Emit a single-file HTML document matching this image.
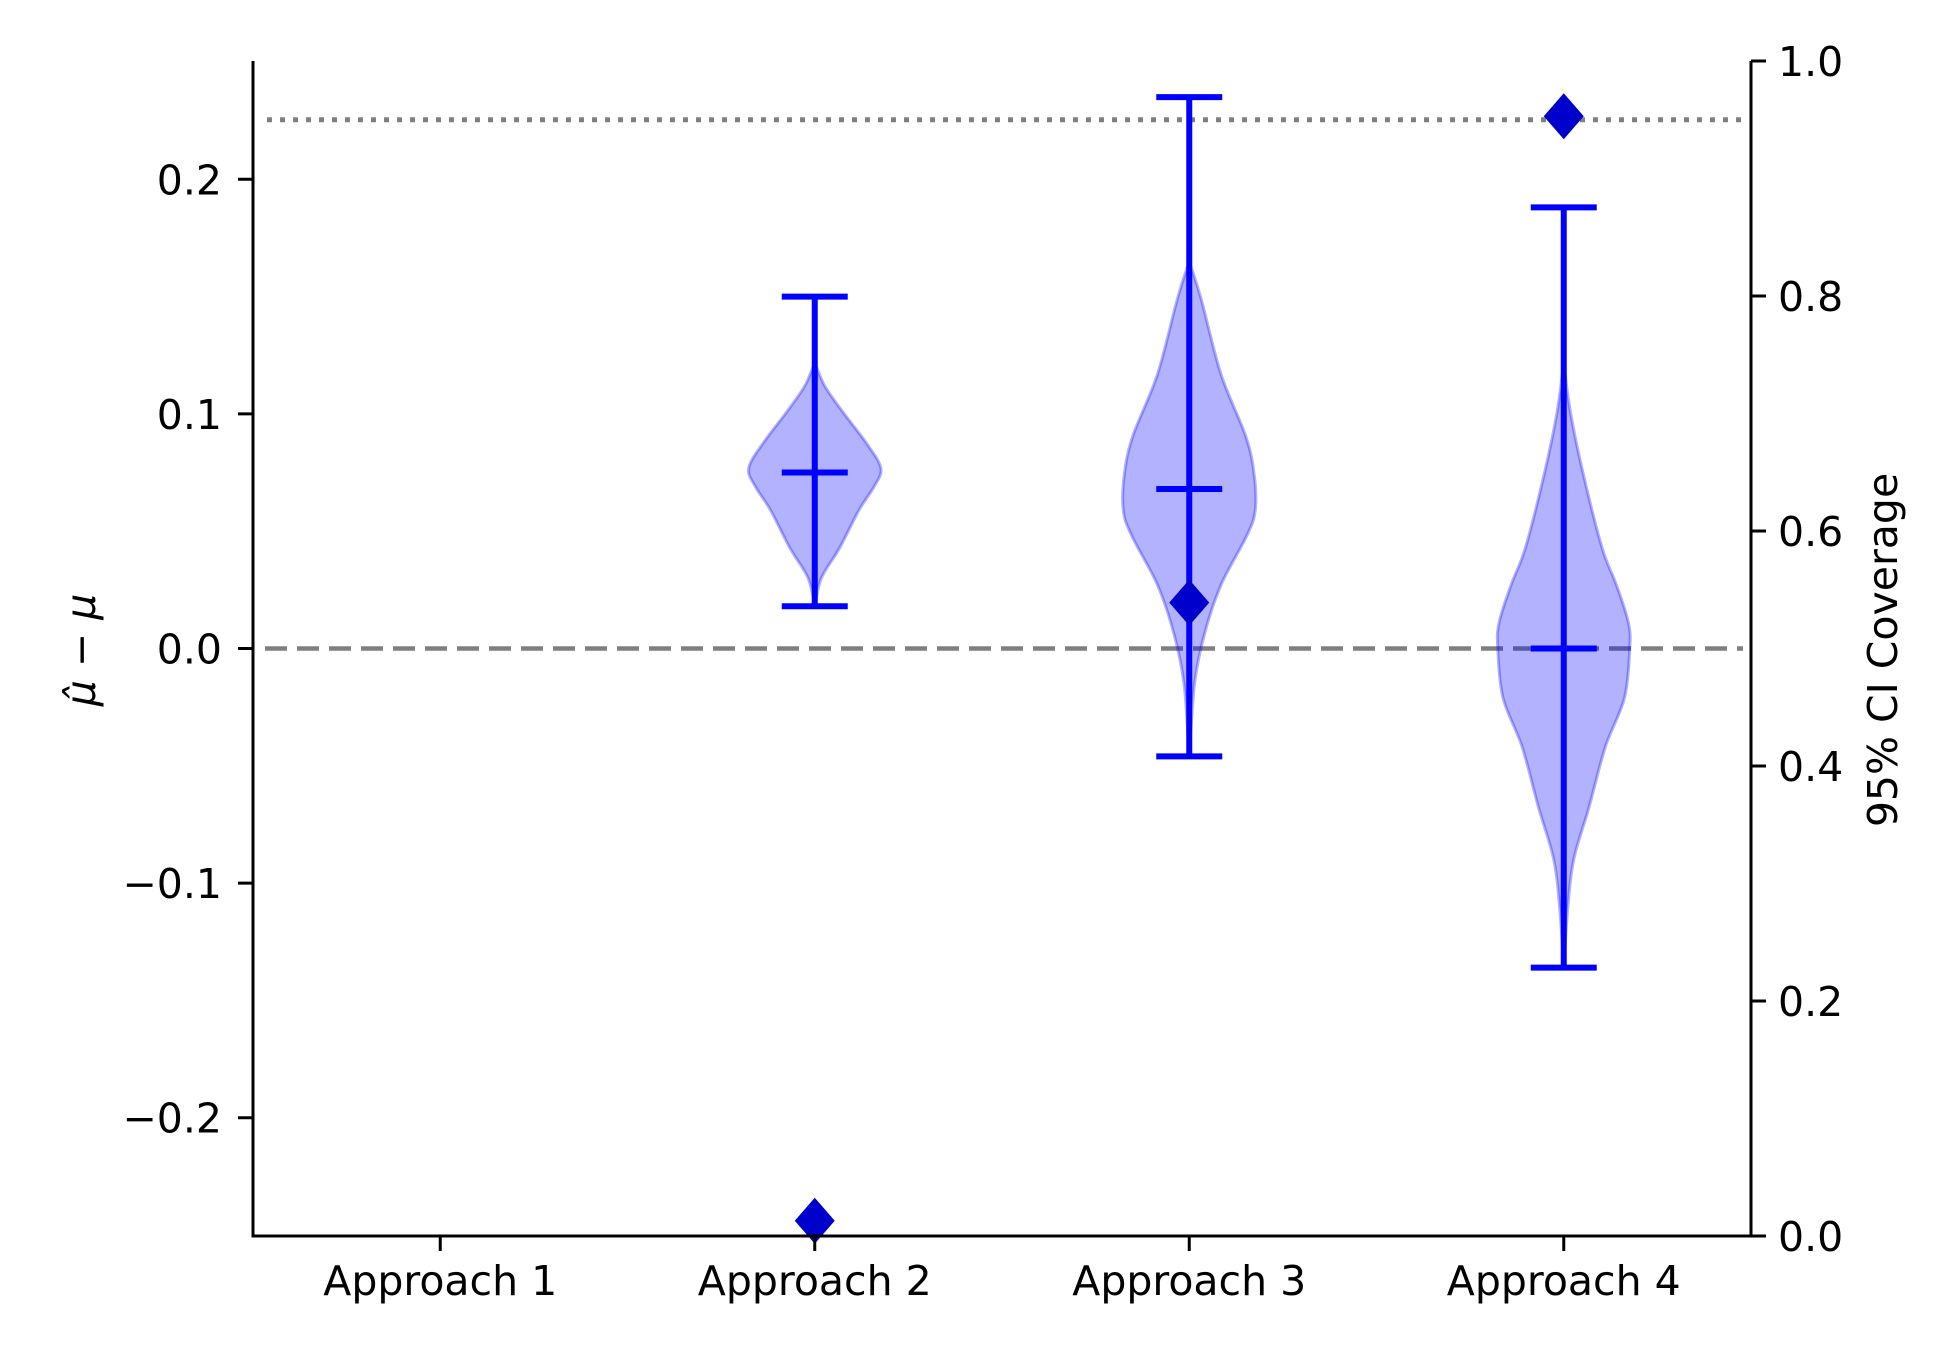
<!DOCTYPE html>
<html><head><meta charset="utf-8"><style>
html,body{margin:0;padding:0;background:#fff}
svg{display:block}
text{font-family:"DejaVu Sans","Liberation Sans",sans-serif;fill:#000}
</style></head><body>
<svg id="chart" width="1950" height="1350" viewBox="0 0 1950 1350" xmlns="http://www.w3.org/2000/svg">
</svg>
<script>
const categories = ["Approach 1","Approach 2","Approach 3","Approach 4"];
const whiskerMax = [null, 0.150, 0.235, 0.188];
const whiskerMin = [null, 0.018, -0.046, -0.136];
const means = [null, 0.075, 0.068, 0.000];
const coverage = [null, 0.013, 0.539, 0.953];
const leftTicks = [-0.2,-0.1,0.0,0.1,0.2];
const leftTickLabels = ["\u22120.2","\u22120.1","0.0","0.1","0.2"];
const rightTicks = [0,0.2,0.4,0.6,0.8,1.0];
const rightTickLabels = ["0.0","0.2","0.4","0.6","0.8","1.0"];
const nominalCoverage = 0.95;
// violin profiles: [value, relative half-width]
const violin2 = [[0.018,0],[0.030,0.1],[0.043,0.38],[0.059,0.67],[0.069,0.9],[0.077,1],[0.088,0.77],[0.101,0.42],[0.112,0.15],[0.122,0]];
const violin3 = [[-0.046,0],[-0.042,0.01],[-0.015,0.08],[0.006,0.23],[0.027,0.48],[0.048,0.87],[0.059,1],[0.075,0.98],[0.091,0.85],[0.117,0.48],[0.149,0.18],[0.165,0]];
const violin4 = [[-0.136,0],[-0.111,0.06],[-0.090,0.15],[-0.068,0.38],[-0.042,0.63],[-0.021,0.92],[0.0,1],[0.011,0.98],[0.027,0.8],[0.043,0.58],[0.075,0.29],[0.101,0.1],[0.122,0]];
const violins = [null, violin2, violin3, violin4];

const L=253,R=1751,T=61,B=1236;
const xmin=0.5,xmax=4.5,ymin=-0.2504,ymax=0.2504;
const X=v=>L+(v-xmin)/(xmax-xmin)*(R-L);
const Y=v=>B-(v-ymin)/(ymax-ymin)*(B-T);
const Y2=v=>B-v*(B-T);
const HW=66, CAP=33;
const svg=document.getElementById('chart');
const NS='http://www.w3.org/2000/svg';
function mk(tag,attrs,parent){const e=document.createElementNS(NS,tag);for(const k in attrs)e.setAttribute(k,attrs[k]);(parent||svg).appendChild(e);return e;}
function smooth(pts){
  let d='';
  for(let i=0;i<pts.length-1;i++){
    const p0=pts[Math.max(0,i-1)],p1=pts[i],p2=pts[i+1],p3=pts[Math.min(pts.length-1,i+2)];
    const c1=[p1[0]+(p2[0]-p0[0])/6,p1[1]+(p2[1]-p0[1])/6];
    const c2=[p2[0]-(p3[0]-p1[0])/6,p2[1]-(p3[1]-p1[1])/6];
    d+=` C${c1[0].toFixed(1)},${c1[1].toFixed(1)} ${c2[0].toFixed(1)},${c2[1].toFixed(1)} ${p2[0].toFixed(1)},${p2[1].toFixed(1)}`;
  }
  return d;
}

let l=mk('line',{x1:267,x2:R-8,y1:Y2(nominalCoverage),y2:Y2(nominalCoverage),stroke:'#808080','stroke-width':5,'stroke-dasharray':'5 8'});


l=mk('line',{x1:265,x2:R-8,y1:Y(0),y2:Y(0),stroke:'#808080','stroke-width':4.5,'stroke-dasharray':'22 10'});



categories.forEach((c,i)=>{
  const cx=X(i+1);
  const prof=violins[i];
  if(prof){
    const right=prof.map(p=>[cx+p[1]*HW,Y(p[0])]);
    const left=prof.slice().reverse().map(p=>[cx-p[1]*HW,Y(p[0])]);
    let d='M'+right[0][0].toFixed(1)+','+right[0][1].toFixed(1)+smooth(right)+' L'+left[0][0].toFixed(1)+','+left[0][1].toFixed(1)+smooth(left)+'Z';
    const v=mk('path',{d:d,fill:'rgba(0,0,255,0.3)',stroke:'rgba(0,0,255,0.3)','stroke-width':3,'stroke-linejoin':'round'});
    
    
    const g=mk('g',{stroke:'#0000ff','stroke-width':6});
    
    
    mk('line',{x1:cx,x2:cx,y1:Y(whiskerMax[i]),y2:Y(whiskerMin[i])},g);
    mk('line',{x1:cx-CAP,x2:cx+CAP,y1:Y(whiskerMax[i]),y2:Y(whiskerMax[i])},g);
    mk('line',{x1:cx-CAP,x2:cx+CAP,y1:Y(whiskerMin[i]),y2:Y(whiskerMin[i])},g);
    mk('line',{x1:cx-CAP,x2:cx+CAP,y1:Y(means[i]),y2:Y(means[i])},g);
  }
  if(coverage[i]!=null){
    const cy=Y2(coverage[i]);
    const dm=mk('path',{d:`M${cx},${cy-23} L${cx+20},${cy} L${cx},${cy+23} L${cx-20},${cy} Z`,fill:'#0000cd'});
    
    
  }
  const tk=mk('line',{x1:cx,x2:cx,y1:B,y2:B+15,stroke:'#000','stroke-width':3});
  
  
  const t=mk('text',{x:cx,y:B+59,'text-anchor':'middle','font-size':41});
  t.textContent=c;
  
  
});

leftTicks.forEach((v,i)=>{
  const y=Y(v);
  const tk=mk('line',{x1:L-15,x2:L,y1:y,y2:y,stroke:'#000','stroke-width':3});
  
  
  const t=mk('text',{x:L-31,y:y+15,'text-anchor':'end','font-size':41});
  t.textContent=leftTickLabels[i];
  
  
});
rightTicks.forEach((v,i)=>{
  const y=Y2(v);
  const tk=mk('line',{x1:R,x2:R+15,y1:y,y2:y,stroke:'#000','stroke-width':3});
  
  
  const t=mk('text',{x:R+27,y:y+15,'text-anchor':'start','font-size':41});
  t.textContent=rightTickLabels[i];
  
  
});

let s=mk('line',{x1:L,x2:L,y1:T,y2:B+1.5,stroke:'#000','stroke-width':3});


s=mk('line',{x1:R,x2:R,y1:T,y2:B+1.5,stroke:'#000','stroke-width':3});


s=mk('line',{x1:L,x2:R,y1:B,y2:B,stroke:'#000','stroke-width':3});



let yl=mk('text',{transform:'translate(95,650) rotate(-90)','text-anchor':'middle','font-size':41,'font-family':'"DejaVu Serif","Liberation Serif",serif','font-style':'italic'});
yl.textContent='\u03BC\u0302 \u2212 \u03BC';


let yr=mk('text',{transform:`translate(${R+146},650) rotate(-90)`,'text-anchor':'middle','font-size':41});
yr.textContent='95% CI Coverage';


</script>
</body></html>
